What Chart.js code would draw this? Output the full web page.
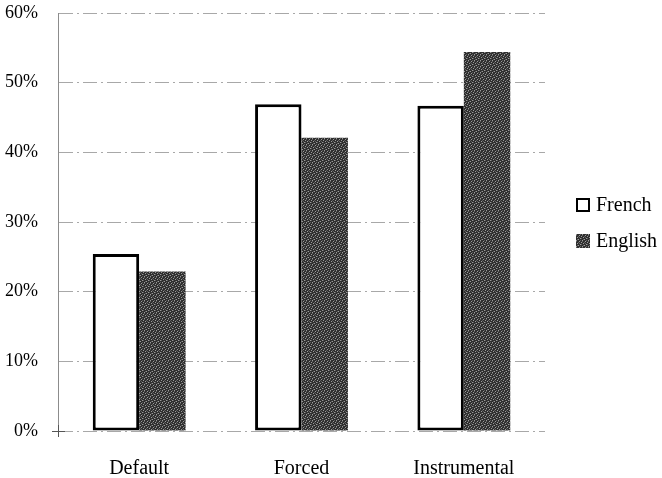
<!DOCTYPE html>
<html>
<head>
<meta charset="utf-8">
<script src="https://cdn.jsdelivr.net/npm/chart.js@4/dist/chart.umd.min.js"></script>
<style>
  html, body { margin: 0; padding: 0; background: #fff; }
  #wrap { width: 662px; height: 478px; position: relative; }
</style>
</head>
<body>
<div id="wrap"><canvas id="c" width="662" height="478"></canvas></div>
<script>
// Share of responses per condition, in percent
const categories = ['Default', 'Forced', 'Instrumental'];
const frenchValues = [25.4, 46.9, 46.7];
const englishValues = [22.9, 42.1, 54.4];
const seriesNames = ['French', 'English'];
const yTicks = [0, 10, 20, 30, 40, 50, 60];

const SERIF = '"Liberation Serif", "DejaVu Serif", serif';

// Stippled grey fill for the English bars (fixed dither pattern)
function stipple() {
  const size = 6;
  const cv = document.createElement('canvas');
  cv.width = size; cv.height = size;
  const g = cv.getContext('2d');
  g.fillStyle = '#2e2e2e';
  g.fillRect(0, 0, size, size);
  const light = [[0,0],[3,1],[1,3],[4,4],[2,5],[5,2]];
  g.fillStyle = '#9a9a9a';
  light.forEach(([x, y]) => g.fillRect(x, y, 1, 1));
  const mid = [[1,5],[4,0],[2,2],[5,4],[0,1],[3,3]];
  g.fillStyle = '#5e5e5e';
  mid.forEach(([x, y]) => g.fillRect(x, y, 1, 1));
  return g.createPattern(cv, 'repeat');
}
const englishFill = stipple();

// Legend drawn at the right of the plot
const sideLegend = {
  id: 'sideLegend',
  afterDraw(chart) {
    const ctx = chart.ctx;
    const x = 576, rows = [205, 241], box = 14;
    ctx.save();
    ctx.font = '20px ' + SERIF;
    ctx.textBaseline = 'middle';
    ctx.textAlign = 'left';
    chart.data.datasets.forEach((ds, i) => {
      const y = rows[i];
      ctx.fillStyle = ds.backgroundColor;
      ctx.fillRect(x, y - box / 2, box, box);
      if (ds.borderWidth) {
        ctx.strokeStyle = '#000';
        ctx.lineWidth = 2;
        ctx.strokeRect(x + 1, y - box / 2 + 1, box - 2, box - 2);
      }
      ctx.fillStyle = '#000';
      ctx.fillText(ds.label, x + box + 6, y + 1);
    });
    ctx.restore();
  }
};

// Small cross mark where the value axis meets zero
const zeroCross = {
  id: 'zeroCross',
  afterDatasetsDraw(chart) {
    const y = chart.scales.y;
    const ctx = chart.ctx;
    const px = chart.chartArea.left, py = y.getPixelForValue(0);
    ctx.save();
    ctx.strokeStyle = '#555';
    ctx.lineWidth = 1;
    ctx.beginPath();
    ctx.moveTo(px - 6, py + 0.5);
    ctx.lineTo(px + 7, py + 0.5);
    ctx.moveTo(px + 0.5, py - 6);
    ctx.lineTo(px + 0.5, py + 6);
    ctx.stroke();
    ctx.restore();
  }
};

new Chart(document.getElementById('c'), {
  type: 'bar',
  data: {
    labels: categories,
    datasets: [
      {
        label: seriesNames[0],
        data: frenchValues,
        backgroundColor: '#ffffff',
        borderColor: '#000000',
        borderWidth: 3,
        borderSkipped: false
      },
      {
        label: seriesNames[1],
        data: englishValues,
        backgroundColor: englishFill,
        borderWidth: 0
      }
    ]
  },
  options: {
    responsive: false,
    animation: false,
    layout: { padding: { top: 13, right: 117, left: 0, bottom: 0 } },
    datasets: {
      bar: { categoryPercentage: 0.572, barPercentage: 1.0 }
    },
    plugins: {
      legend: { display: false },
      title: { display: false },
      tooltip: { enabled: false }
    },
    scales: {
      x: {
        grid: { display: false },
        border: { display: false },
        ticks: { color: '#000', font: { family: SERIF, size: 20 }, padding: 18 },
        afterFit(s) { s.height = 47; s.paddingLeft = 0; s.paddingRight = 0; }
      },
      y: {
        min: 0,
        max: 60,
        afterBuildTicks(s) { s.ticks = yTicks.map(v => ({ value: v })); },
        ticks: {
          color: '#000',
          font: { family: SERIF, size: 18 },
          padding: 20,
          callback: v => v + '%'
        },
        grid: {
          color: '#a8a8a8',
          lineWidth: 1,
          drawTicks: false
        },
        border: { display: true, color: '#8c8c8c', dash: [14, 4, 2, 4] },
        afterFit(s) { s.width = 58; s.paddingTop = 0; s.paddingBottom = 0; }
      }
    }
  },
  plugins: [sideLegend, zeroCross, {
    id: 'dashGrid',
    beforeDraw(chart) {
      const y = chart.scales.y;
      y.options.grid.borderDash = [16, 6, 3, 6];
    }
  }]
});
</script>
</body>
</html>
